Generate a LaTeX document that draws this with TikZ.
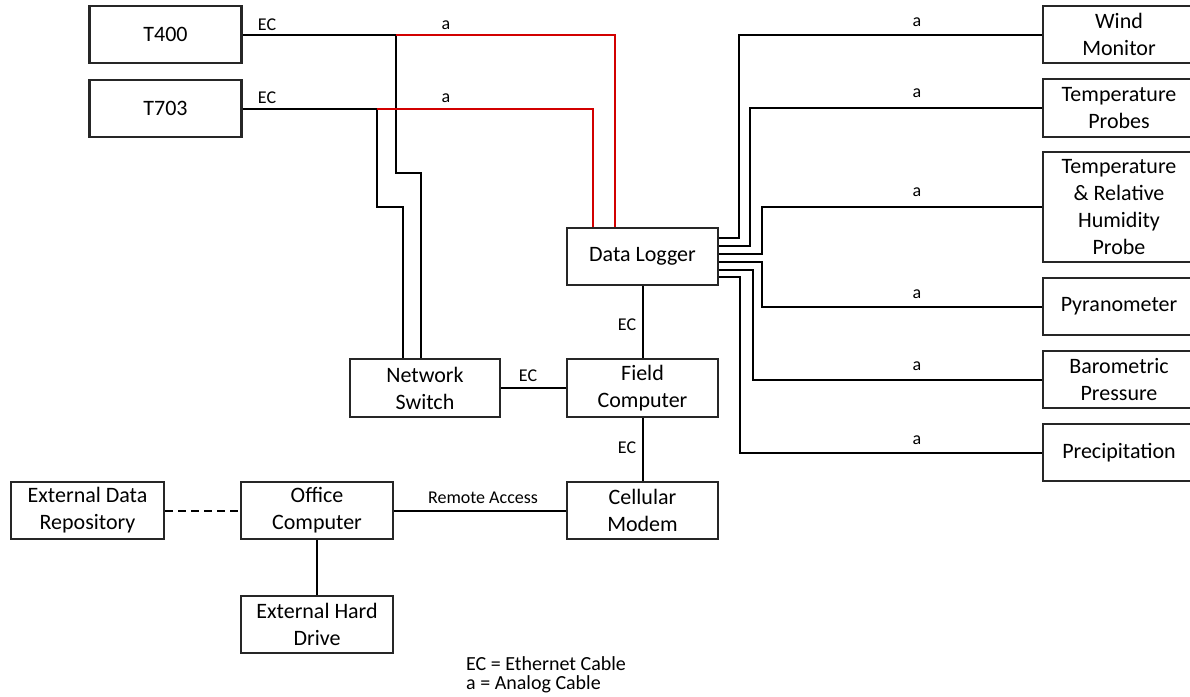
\documentclass[tikz,border=0pt]{standalone}
\usepackage{fontspec}
\setmainfont{Carlito}
\usetikzlibrary{calc}
\definecolor{cablered}{RGB}{210,0,0}
\tikzset{
  box/.style={draw=black!85, line width=2.3pt, fill=white, minimum width=152pt, minimum height=57pt, align=center, inner sep=0pt, font=\fontsize{22}{27}\selectfont, text=black},
  cable/.style={draw=black, line width=2pt},
  redcable/.style={draw=cablered, line width=2pt},
  lbl/.style={font=\fontsize{18}{20}\selectfont, inner sep=0pt, text=black},
  legend/.style={font=\fontsize{20}{20}\selectfont, inner sep=0pt, anchor=west, text=black}
}
\begin{document}
\begin{tikzpicture}[x=1pt,y=-1pt]
\useasboundingbox (0,0) rectangle (1190,696);
% boxes
\node[box] (t400) at (165.5,34.5) {T400};
\node[box] (t703) at (165.5,108.5) {T703};
\node[box, minimum width=151pt] (dl) at (642.5,256.5) {Data Logger};
\node[box, minimum width=150pt, minimum height=58pt] (ns) at (425,388) {Network\\Switch};
\node[box, minimum width=151pt, minimum height=58pt] (fc) at (642.5,388) {Field\\Computer};
\node[box, minimum width=151pt] (cm) at (642.5,510.5) {Cellular\\Modem};
\node[box] (oc) at (317,510.5) {Office\\Computer};
\node[box, minimum width=153pt] (edr) at (87.5,510.5) {External Data\\Repository};
\node[box] (ehd) at (317,624.5) {External Hard\\Drive};
\node[box] (wm) at (1119,34.5) {Wind\\Monitor};
\node[box, minimum height=58pt] (tp) at (1119,108) {Temperature\\Probes};
\node[box, minimum height=110pt] (trh) at (1119,207) {Temperature\\\&~Relative\\Humidity\\Probe};
\node[box] (pyr) at (1119,306.5) {Pyranometer};
\node[box] (bp) at (1119,379.5) {Barometric\\Pressure};
\node[box] (pr) at (1119,452.5) {Precipitation};
% junction coordinates
\coordinate (j1) at (396,34.5);
\coordinate (k1) at (396,173);
\coordinate (j2) at (377,108.5);
\coordinate (k2) at (377,207);
\coordinate (xw) at (739,0);
\coordinate (xt) at (750,0);
\coordinate (xh) at (762,0);
\coordinate (xb) at (753,0);
\coordinate (xp) at (740,0);
% T400 / T703 cables
\draw[cable] (t400.east) -- (j1);
\draw[cable] (t703.east) -- (j2);
\draw[cable] (j1) -- (k1) -| ($(ns.north)+(-4,0)$);
\draw[cable] (j2) -- (k2) -| ($(ns.north)+(-22,0)$);
\draw[redcable] (j1) -| ($(dl.north)+(-27.5,0)$);
\draw[redcable] (j2) -| ($(dl.north)+(-49.5,0)$);
% data logger to sensors
\draw[cable] ($(dl.east)+(0,-18.5)$) -| (xw |- wm.west) -- (wm.west);
\draw[cable] ($(dl.east)+(0,-10.5)$) -| (xt |- tp.west) -- (tp.west);
\draw[cable] ($(dl.east)+(0,-2.5)$) -| (xh |- trh.west) -- (trh.west);
\draw[cable] ($(dl.east)+(0,5.5)$) -| (xh |- pyr.west) -- (pyr.west);
\draw[cable] ($(dl.east)+(0,13.5)$) -| (xb |- bp.west) -- (bp.west);
\draw[cable] ($(dl.east)+(0,20.5)$) -| (xp |- pr.west) -- (pr.west);
% ethernet
\draw[cable] (dl.south) -- (fc.north);
\draw[cable] (fc.south) -- (cm.north);
\draw[cable] (ns.east) -- (fc.west);
\draw[cable] (oc.east) -- (cm.west);
\draw[cable] (oc.south) -- (ehd.north);
\draw[cable, dashed, dash pattern=on 8pt off 5pt] (edr.east) -- (oc.west);
% labels
\node[lbl] (l1) at (267,25) {EC};
\node[lbl] (l2) at (446,25) {a};
\node[lbl] (l3) at (267,98) {EC};
\node[lbl] (l4) at (446,98) {a};
\node[lbl] (l5) at (917,22) {a};
\node[lbl] (l6) at (917,93) {a};
\node[lbl] (l7) at (917,192) {a};
\node[lbl] (l8) at (917,294) {a};
\node[lbl] (l9) at (917,366) {a};
\node[lbl] (l10) at (917,440) {a};
\node[lbl] (l11) at (627,325) {EC};
\node[lbl] (l12) at (627,448) {EC};
\node[lbl] (l13) at (528,376) {EC};
\node[lbl] (l14) at (483,498) {Remote Access};
\node[legend] (lg1) at (466,664) {EC = Ethernet Cable};
\node[legend] (lg2) at (466,684) {a = Analog Cable};
\end{tikzpicture}
\end{document}
